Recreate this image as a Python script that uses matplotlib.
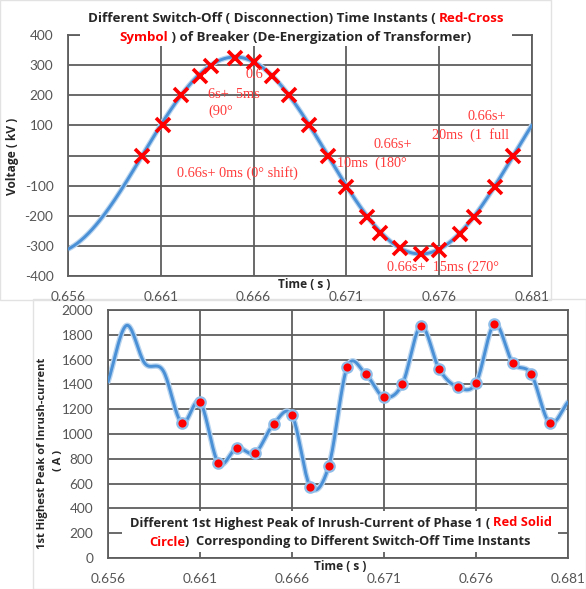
import numpy as np
import matplotlib
matplotlib.use("Agg")
import matplotlib.pyplot as plt
from matplotlib.patches import Rectangle

# ---------------- data ----------------
# Upper chart: source voltage and breaker opening instants
PEAK_KV = 327.0
FREQ_HZ = 50.0
T_ZERO = 0.660
switch_times = [0.6600, 0.6611, 0.6621, 0.6631, 0.6637, 0.6650, 0.6660,
                0.6670, 0.6679, 0.6690, 0.6700, 0.6710, 0.6721, 0.6728,
                0.6739, 0.6750, 0.6760, 0.6771, 0.6779, 0.6790, 0.6800]
switch_kv = [0, 100, 200, 263, 297, 323, 310, 263, 200, 100, 0, -103,
             -203, -257, -307, -327, -313, -260, -203, -103, 0]

# Lower chart: first highest inrush-current peak of phase 1
lead_times = [0.656, 0.657, 0.658, 0.659]
lead_amp = [1420, 1875, 1570, 1510]
peak_times = [0.660, 0.661, 0.662, 0.663, 0.664, 0.665, 0.666, 0.667,
              0.668, 0.669, 0.670, 0.671, 0.672, 0.673, 0.674, 0.675,
              0.676, 0.677, 0.678, 0.679, 0.680]
peak_amp = [1089, 1258, 766, 887, 847, 1081, 1153, 573, 742, 1540, 1484,
            1298, 1403, 1871, 1524, 1379, 1411, 1887, 1573, 1484, 1089]
tail_times = [0.681]
tail_amp = [1258]

x_ticks = [0.656, 0.661, 0.666, 0.671, 0.676, 0.681]
x_ticklabels = ["0.656", "0.661", "0.666", "0.671", "0.676", "0.681"]
v_ticks = [-400, -300, -200, -100, 0, 100, 200, 300, 400]
v_ticklabels = ["-400", "-300", "-200", "-100", "", "100", "200", "300", "400"]
i_ticks = [0, 200, 400, 600, 800, 1000, 1200, 1400, 1600, 1800, 2000]
i_ticklabels = [str(v) for v in i_ticks]

# ---------------- style ----------------
W, H = 586, 589
FONT = ["Lato", "DejaVu Sans"]
BOLD = ["Open Sans", "DejaVu Sans"]
SERIF = ["Liberation Serif", "DejaVu Serif"]
BLUE = "#4a90d6"
HALO = "#b8d4ef"
GRID = "#5e5e5e"
TICK = "#555555"
DARK = "#262626"
RED = "#ff0000"
NOTE = "#ff3a3a"


def fx(x):
    return x / W


def fy(y):
    return 1 - y / H


def catmull_rom(xs, ys, n=20):
    xs = np.asarray(xs, float)
    ys = np.asarray(ys, float)
    px = np.concatenate([[2 * xs[0] - xs[1]], xs, [2 * xs[-1] - xs[-2]]])
    py = np.concatenate([[2 * ys[0] - ys[1]], ys, [2 * ys[-1] - ys[-2]]])
    outx, outy = [], []
    s = np.linspace(0, 1, n, endpoint=False)
    for i in range(1, len(px) - 2):
        for arr, out in ((px, outx), (py, outy)):
            p0, p1, p2, p3 = arr[i - 1], arr[i], arr[i + 1], arr[i + 2]
            out.extend(0.5 * ((2 * p1) + (-p0 + p2) * s
                              + (2 * p0 - 5 * p1 + 4 * p2 - p3) * s ** 2
                              + (-p0 + 3 * p1 - 3 * p2 + p3) * s ** 3))
    outx.append(xs[-1])
    outy.append(ys[-1])
    return np.array(outx), np.array(outy)


fig = plt.figure(figsize=(W / 100, H / 100), dpi=100)
renderer = fig.canvas.get_renderer()


def rich_line(cx, cy, parts, size):
    full = "".join(p for p, _ in parts)
    probe = fig.text(0, 0, full, fontsize=size, fontweight="bold", family=BOLD)
    total = probe.get_window_extent(renderer).width
    probe.set_text("|")
    bar = probe.get_window_extent(renderer).width
    left = cx - total / 2
    prefix = ""
    for s, c in parts:
        if prefix:
            probe.set_text(prefix + "|")
            off = probe.get_window_extent(renderer).width - bar
        else:
            off = 0
        fig.text(fx(left + off), fy(cy), s, color=c, fontsize=size,
                 fontweight="bold", family=BOLD, va="center", ha="left",
                 zorder=4)
        prefix += s
    probe.remove()


def style_axes(ax):
    ax.set_facecolor("white")
    ax.grid(True, color=GRID, lw=1.3)
    ax.set_axisbelow(True)
    for sp in ax.spines.values():
        sp.set_color(GRID)
        sp.set_linewidth(1.3)
    ax.tick_params(length=0, labelsize=9.8, labelcolor=TICK, pad=10.5)
    for lab in ax.get_xticklabels() + ax.get_yticklabels():
        lab.set_family(FONT)


# faint chart frames
fig.add_artist(Rectangle((0, fy(300)), fx(551), 300 / H, transform=fig.transFigure,
                         fill=False, ec="#e2e2e2", lw=1, zorder=0))
fig.add_artist(Rectangle((fx(33), 0), fx(586 - 33), 290 / H, transform=fig.transFigure,
                         fill=False, ec="#e2e2e2", lw=1, zorder=0))

# ---------------- upper chart ----------------
ax1 = fig.add_axes([fx(68), fy(276), fx(532 - 68), (276 - 35) / H])
t = np.linspace(x_ticks[0], x_ticks[-1], 600)
v = PEAK_KV * np.sin(2 * np.pi * FREQ_HZ * (t - T_ZERO))
ax1.plot(t, v, color=HALO, lw=3.8, solid_capstyle="round", zorder=2)
ax1.plot(t, v, color=BLUE, lw=2.1, solid_capstyle="round", zorder=3)
ax1.plot(switch_times, switch_kv, ls="none", marker="x", ms=10, mew=2.6,
         color=RED, zorder=4)
ax1.set_xlim(x_ticks[0], x_ticks[-1])
ax1.set_ylim(-400, 400)
ax1.set_xticks(x_ticks)
ax1.set_xticklabels(x_ticklabels)
ax1.set_yticks(v_ticks)
ax1.set_yticklabels(v_ticklabels)
style_axes(ax1)

fig.add_artist(Rectangle((fx(80), fy(46)), fx(512 - 80), 42 / H,
                         transform=fig.transFigure, fc="white", ec="none", zorder=3))
rich_line(296, 18, [("Different Switch-Off ( Disconnection) Time Instants ( ", DARK),
                    ("Red-Cross", RED)], 9.6)
rich_line(295, 37, [("Symbol", RED),
                    (" ) of Breaker (De-Energization of Transformer)", DARK)], 9.6)

fig.text(fx(13), fy(156), "Voltage ( kV )", rotation=90, fontsize=8.6,
         fontweight="bold", family=BOLD, color=DARK, ha="center", va="center")
fig.text(fx(304), fy(285), "Time ( s )", fontsize=8.6, fontweight="bold",
         family=BOLD, color=DARK, ha="center", va="center", zorder=4)

notes = [
    (177, 173, "0.66s+ 0ms (0° shift)"),
    (246, 75, "0.6"),
    (208, 94, "6s+  5ms"),
    (208, 111, "(90°"),
    (373, 145, "0.66s+"),
    (337, 163, "10ms  (180°"),
    (468, 117, "0.66s+"),
    (432, 135, "20ms  (1  full"),
    (387, 267, "0.66s+  15ms (270°"),
]
for x, y, s in notes:
    fig.text(fx(x), fy(y), s, fontsize=10.3, family=SERIF, color=NOTE,
             ha="left", va="center", zorder=5)

# ---------------- lower chart ----------------
ax2 = fig.add_axes([fx(108), fy(558), fx(568 - 108), (558 - 310) / H])
all_t = lead_times + peak_times + tail_times
all_a = lead_amp + peak_amp + tail_amp
sx, sy = catmull_rom(all_t, all_a)
ax2.plot(sx, sy, color=HALO, lw=4.0, solid_capstyle="round", zorder=2)
ax2.plot(sx, sy, color=BLUE, lw=2.1, solid_capstyle="round", zorder=3)
ax2.plot(peak_times, peak_amp, ls="none", marker="o", ms=7.5, mfc=RED,
         mec="#8fbde9", mew=1.6, zorder=4)
ax2.set_xlim(x_ticks[0], x_ticks[-1])
ax2.set_ylim(0, 2000)
ax2.set_xticks(x_ticks)
ax2.set_xticklabels(x_ticklabels)
ax2.set_yticks(i_ticks)
ax2.set_yticklabels(i_ticklabels)
style_axes(ax2)

fig.add_artist(Rectangle((fx(122), fy(552)), fx(558 - 122), 41 / H,
                         transform=fig.transFigure, fc="white", ec="none", zorder=3))
rich_line(341, 523, [("Different 1st Highest Peak of Inrush-Current of Phase 1 ( ", DARK),
                     ("Red Solid", RED)], 9.3)
rich_line(340, 542, [("Circle", RED),
                     (")  Corresponding to Different Switch-Off Time Instants", DARK)], 9.3)

fig.text(fx(43), fy(453), "1st Highest Peak of Inrush-current", rotation=90,
         fontsize=8.0, fontweight="bold", family=BOLD, color=DARK,
         ha="center", va="center")
fig.text(fx(58), fy(460), "( A )", rotation=90, fontsize=8.0, fontweight="bold",
         family=BOLD, color=DARK, ha="center", va="center")
fig.text(fx(340), fy(566), "Time ( s )", fontsize=8.6, fontweight="bold",
         family=BOLD, color=DARK, ha="center", va="center", zorder=4)

fig.savefig("out.png", dpi=100, facecolor="white")
